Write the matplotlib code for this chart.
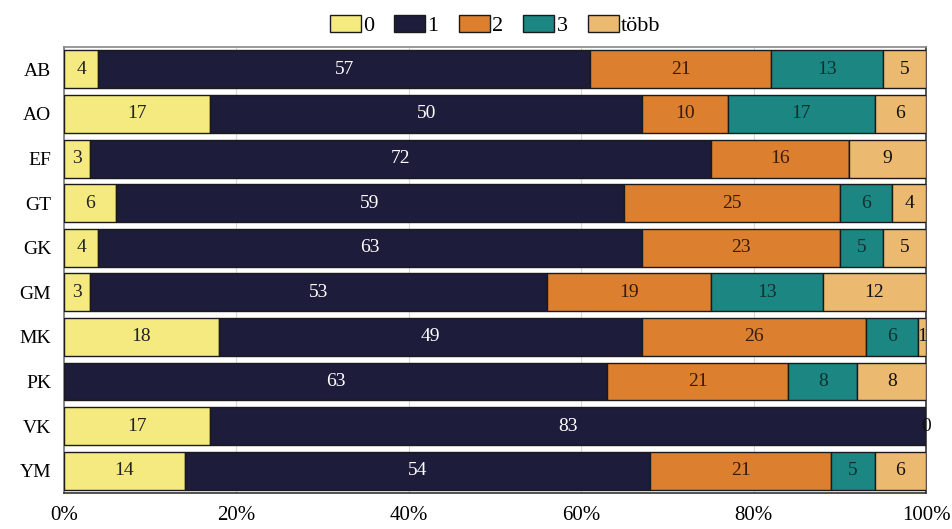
import matplotlib.pyplot as plt
import numpy as np

plt.rcParams['font.family'] = ['Liberation Serif', 'DejaVu Serif']

categories = ['AB', 'AO', 'EF', 'GT', 'GK', 'GM', 'MK', 'PK', 'VK', 'YM']
series_names = ['0', '1', '2', '3', 'több']
nan = np.nan
v0 = [4, 17, 3, 6, 4, 3, 18, nan, 17, 14]
v1 = [57, 50, 72, 59, 63, 53, 49, 63, 83, 54]
v2 = [21, 10, 16, 25, 23, 19, 26, 21, nan, 21]
v3 = [13, 17, nan, 6, 5, 13, 6, 8, nan, 5]
v4 = [5, 6, 9, 4, 5, 12, 1, 8, 0, 6]
series = [v0, v1, v2, v3, v4]
colors = ['#F4EA80', '#1D1C3A', '#DC8030', '#1B8682', '#EBBA70']
text_colors = ['#222222', 'white', '#3a1a0a', '#10302e', '#2a1a0a']

fig = plt.figure(figsize=(9.53, 5.29), dpi=100)
ax = fig.add_axes([0.067, 0.068, 0.905, 0.843])

y = np.arange(len(categories))
left = np.zeros(len(categories))
for name, vals, c, tc in zip(series_names, series, colors, text_colors):
    arr = np.array(vals, dtype=float)
    w = np.nan_to_num(arr)
    bars = ax.barh(y, w, left=left, height=0.85, color=c, edgecolor='#1a1a1a',
                   linewidth=1.0, label=name, zorder=3)
    labels = ['' if np.isnan(v) else '%d' % v for v in arr]
    col = '#111111' if name == 'több' else tc
    for rect, lab in zip(bars, labels):
        if lab:
            ax.text(rect.get_x() + rect.get_width() / 2, rect.get_y() + rect.get_height() / 2,
                    lab, ha='center', va='center', color=col, fontsize=14, zorder=4)
    left += w

ax.set_xlim(0, 100)
ax.set_ylim(len(categories) - 0.5, -0.5)
ax.set_yticks(y)
ax.set_yticklabels(categories, fontsize=14)
ax.set_xticks(np.arange(0, 101, 20))
ax.set_xticklabels(['%d%%' % t for t in range(0, 101, 20)], fontsize=15)
ax.tick_params(axis='both', length=0)
ax.tick_params(axis='x', pad=9)
ax.tick_params(axis='y', pad=9)
ax.grid(axis='x', color='#d9d9d9', linewidth=0.8, zorder=0)
for s in ax.spines.values():
    s.set_color('#333333')
    s.set_linewidth(1.2)
ax.spines['top'].set_color('#888888')
ax.spines['left'].set_color('#777777')

ax.legend(loc='lower center', bbox_to_anchor=(0.5, 1.0), ncol=5, frameon=False,
          fontsize=16, handlelength=1.4, handleheight=0.8, handletextpad=0.1,
          columnspacing=0.9, borderaxespad=0.1)

fig.savefig('out.png', dpi=100)
